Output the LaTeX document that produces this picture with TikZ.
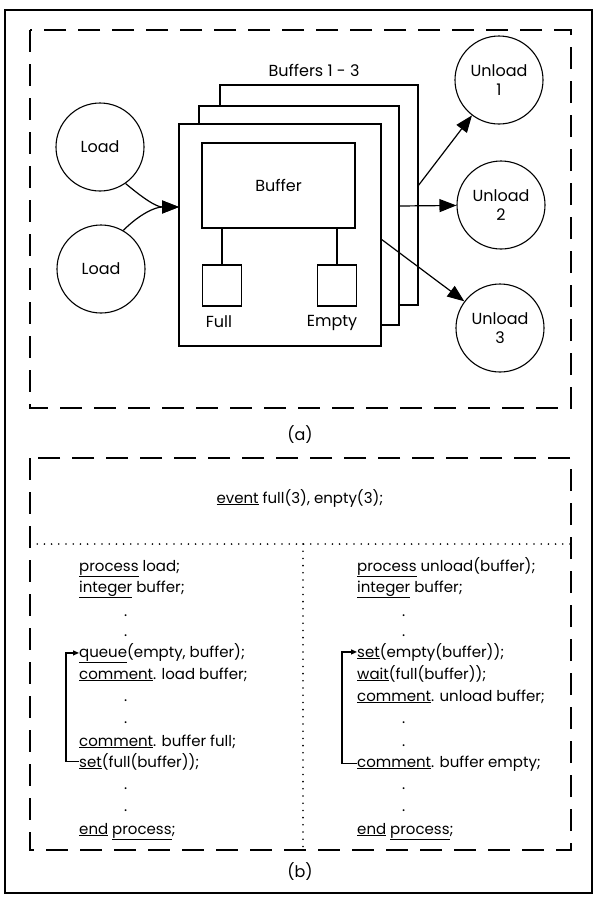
\documentclass[tikz,border=0pt]{standalone}
\usepackage{fontspec}
\setmainfont{Poppins}
\usetikzlibrary{arrows.meta}
\newcommand{\kw}[1]{\underline{#1}}
\tikzset{
    proc/.style={draw, circle, line width=1.1pt, minimum size=88pt, inner sep=0pt, align=center, font=\fontsize{16}{19}\selectfont},
    bufbox/.style={draw, line width=1.2pt, fill=white, inner sep=0pt},
    flag/.style={draw, line width=1.2pt, minimum width=39pt, minimum height=41pt, inner sep=0pt},
    lbl/.style={inner sep=0pt, font=\fontsize{16}{19}\selectfont},
    code/.style={anchor=base west, inner sep=0pt, font=\fontsize{15}{18}\selectfont},
    frame/.style={line width=1.4pt},
    dashframe/.style={line width=1.4pt, dash pattern=on 22pt off 12pt},
    dotline/.style={line width=1.8pt, line cap=round, dash pattern=on 0pt off 7.2pt},
    bigarrow/.style={-{Triangle[length=17pt, width=13pt]}, line width=1.2pt},
    loop/.style={-{Triangle[length=6pt, width=5pt]}, line width=1.2pt}
}

\begin{document}
\begin{tikzpicture}[x=1pt, y=1pt]
            \useasboundingbox (0,0) rectangle (595,-898);
            \draw[frame] (5,-10) rectangle (592,-893);

            % (a)
            \draw[dashframe] (30,-30) rectangle (571,-408);
            \node[lbl] (capa) at (300,-435) {(a)};

            \node[proc] (load1) at (100,-147) {Load};
            \node[proc] (load2) at (101,-269) {Load};
            \node[proc] (unload1) at (499,-80) {Unload\\1};
            \node[proc] (unload2) at (501,-205) {Unload\\2};
            \node[proc] (unload3) at (500,-328) {Unload\\3};

            \node[lbl] (bufs) at (314,-70) {Buffers 1 - 3};
            \node[bufbox, minimum width=198pt, minimum height=220pt] (buf3) at (319,-195) {};
            \node[bufbox, minimum width=200pt, minimum height=219pt] (buf2) at (299,-215.5) {};
            \node[bufbox, minimum width=202pt, minimum height=222pt] (buf1) at (280,-235) {};
            \node[bufbox, lbl, minimum width=153pt, minimum height=85pt] (buf) at (278.5,-185.5) {Buffer};
            \node[flag] (full) at (222,-285.5) {};
            \node[flag] (empty) at (337,-285.5) {};
            \node[lbl] (fulll) at (219,-322) {Full};
            \node[lbl] (emptyl) at (332,-323) {Empty};

            \draw[line width=1.2pt] (buf.south -| full) -- (full);
            \draw[line width=1.2pt] (buf.south -| empty) -- (empty);

            \coordinate (in) at (179,-207);
            \coordinate (b3) at (418,-186);
            \coordinate (b2) at (399,-206);
            \coordinate (b1) at (381,-239);

            \draw[bigarrow] (load1.-55) to[out=-40, in=180] (in);
            \draw[bigarrow] (load2.60) to[out=45, in=180] (in);
            \draw[bigarrow] (b3) -- (unload1);
            \draw[bigarrow] (b2) -- (unload2);
            \draw[bigarrow] (b1) -- (unload3);

            % (b)
            \draw[dashframe] (30,-458) rectangle (571,-850);
            \draw[dotline] (30,-544) -- (571,-544);
            \draw[dotline] (303,-544) -- (303,-850);
            \node[lbl] (capb) at (300,-872) {(b)};
            \node[code, anchor=base] (ev) at (300,-503) {\kw{event} full(3), enpty(3);};

            \node[code] (l1) at (79,-571) {\kw{process} load;};
            \node[code] (l2) at (79,-592) {\kw{integer} buffer;};
            \node[code] (l3) at (124,-616) {.};
            \node[code] (l4) at (124,-636) {.};
            \node[code] (l5) at (79,-657) {\kw{queue}(empty, buffer);};
            \node[code] (l6) at (79,-679) {\kw{comment}. load buffer;};
            \node[code] (l7) at (124,-701) {.};
            \node[code] (l8) at (124,-723) {.};
            \node[code] (l9) at (79,-746) {\kw{comment}. buffer full;};
            \node[code] (l10) at (79,-767) {\kw{set}(full(buffer));};
            \node[code] (l11) at (124,-789) {.};
            \node[code] (l12) at (124,-811) {.};
            \node[code] (l13) at (79,-834) {\kw{end} \kw{process};};

            \node[code] (r1) at (357,-571) {\kw{process} unload(buffer);};
            \node[code] (r2) at (357,-592) {\kw{integer} buffer;};
            \node[code] (r3) at (402,-616) {.};
            \node[code] (r4) at (402,-636) {.};
            \node[code] (r5) at (357,-657) {\kw{set}(empty(buffer));};
            \node[code] (r6) at (357,-679) {\kw{wait}(full(buffer));};
            \node[code] (r7) at (357,-701) {\kw{comment}. unload buffer;};
            \node[code] (r8) at (402,-723) {.};
            \node[code] (r9) at (402,-746) {.};
            \node[code] (r10) at (357,-767) {\kw{comment}. buffer empty;};
            \node[code] (r11) at (402,-789) {.};
            \node[code] (r12) at (402,-811) {.};
            \node[code] (r13) at (357,-834) {\kw{end} \kw{process};};

            \draw[loop] (l10.west) -- ++(-13,0) |- (l5.west);
            \draw[loop] (r10.west) -- ++(-15,0) |- (r5.west);
        \end{tikzpicture}
\end{document}
